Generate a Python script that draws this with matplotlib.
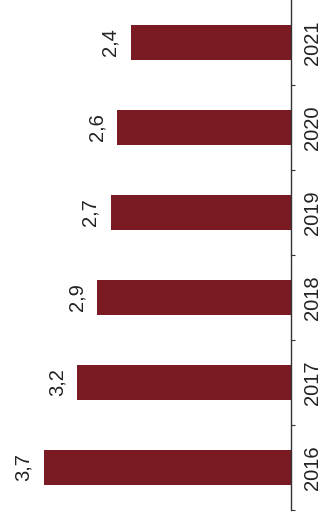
import numpy as np
import matplotlib.pyplot as plt

# data
years = ["2016", "2017", "2018", "2019", "2020", "2021"]
values = [3.7, 3.2, 2.9, 2.7, 2.6, 2.4]
labels = ["3,7", "3,2", "2,9", "2,7", "2,6", "2,4"]

plt.rcParams['font.family'] = ['Liberation Sans', 'DejaVu Sans']

fig = plt.figure(figsize=(3.25, 5.22), dpi=100)
ax = fig.add_axes([0.0, 0.023, 0.895, 0.977])

pos = np.arange(len(years))
bars = ax.barh(pos, values, height=0.41, color="#7a1b23")

# bars grow to the left from the axis on the right
ax.set_xlim(4.36, 0)
ax.set_ylim(-0.5, 5.5)

for b, lab in zip(bars, labels):
    ax.annotate(lab, (b.get_width(), b.get_y() + b.get_height() / 2),
                xytext=(-8, 0), textcoords="offset points",
                rotation=90, ha="right", va="center", fontsize=14.5, color="#222222")

for s in ["left", "top", "bottom"]:
    ax.spines[s].set_visible(False)
ax.spines["right"].set_color("#333333")
ax.spines["right"].set_linewidth(1.0)

ax.set_xticks([])
ax.yaxis.tick_right()
ax.set_yticks(np.arange(-0.5, 5.5, 1.0))
ax.set_yticklabels([])
ax.tick_params(axis="y", which="major", direction="out", length=3, width=0.8, color="#333333")
ax.set_yticks(pos, minor=True)
ax.set_yticklabels(years, minor=True, rotation=90, va="center", fontsize=14.5, color="#222222")
ax.tick_params(axis="y", which="minor", length=0, pad=9)

fig.savefig("out.png", dpi=100)
